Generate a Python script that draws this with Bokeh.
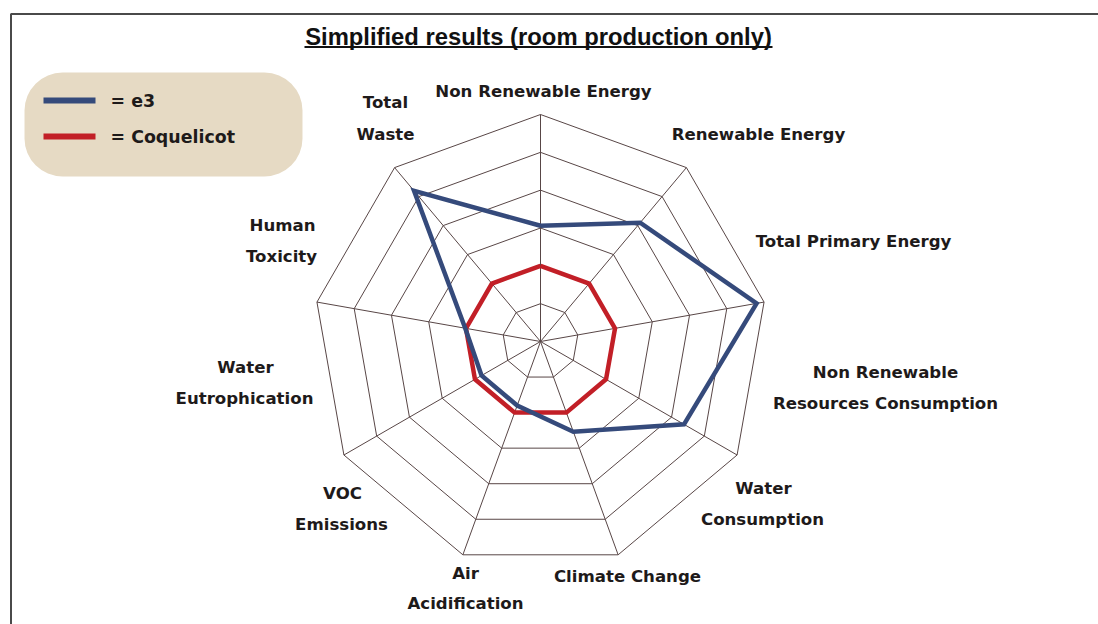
import numpy as np
from bokeh.plotting import figure
from bokeh.models import Range1d, BoxAnnotation
from bokeh.core.properties import value
from bokeh.embed import file_html
from bokeh.resources import INLINE

# ---------------- data ----------------
title_text = "Simplified results (room production only)"
series_names = ["e3", "Coquelicot"]
n_spokes = 9
ring_values = [0.5, 1.0, 1.5, 2.0, 2.5, 3.0]
max_value = 3.0
e3_values = [1.53, 2.05, 2.90, 2.19, 1.27, 0.90, 0.90, 1.01, 2.60]
coquelicot_values = [1.0, 1.0, 1.0, 1.0, 1.0, 1.0, 1.0, 1.0, 1.0]
label_texts = [
    ["Non Renewable Energy"],
    ["Renewable Energy"],
    ["Total Primary Energy"],
    ["Non Renewable", "Resources Consumption"],
    ["Water", "Consumption"],
    ["Climate Change"],
    ["Air", "Acidification"],
    ["VOC", "Emissions"],
    ["Water", "Eutrophication"],
    ["Human", "Toxicity"],
    ["Total", "Waste"],
]

# ---------------- layout (page pixel coordinates) ----------------
W, H = 1098, 624
CX, CY, R = 540.0, 341.0, 227.0
label_pos = [
    [(543, 91)],
    [(758, 134)],
    [(853, 241)],
    [(885, 372), (885, 403)],
    [(763, 488), (762, 519)],
    [(627, 576)],
    [(465, 573), (465, 603)],
    [(342, 493), (341, 524)],
    [(245, 367), (244, 398)],
    [(282, 225), (281, 256)],
    [(385, 102), (385, 134)],
]
BLUE = "#354a7b"
RED = "#c21f27"
GRID = "#584646"
TXT = "#1e1a1a"

p = figure(width=W, height=H, x_range=Range1d(0, W), y_range=Range1d(H, 0),
           output_backend="svg", toolbar_location=None, x_axis_type=None, y_axis_type=None,
           min_border=0, background_fill_color="white", border_fill_color="white")
p.outline_line_color = None
p.grid.visible = False

angles = np.deg2rad(np.arange(n_spokes) * 360.0 / n_spokes)
scale = R / max_value


def to_xy(vals):
    v = np.asarray(vals, dtype=float)
    return CX + v * scale * np.sin(angles), CY - v * scale * np.cos(angles)


# outer frame
p.add_layout(BoxAnnotation(left=10.5, top=13.5, right=1300, bottom=900, level="underlay",
                           fill_alpha=0, line_color="#4a4a4a", line_alpha=1, line_width=2))

# grid rings
for rv in ring_values:
    xs, ys = to_xy([rv] * n_spokes)
    p.line(list(xs) + [xs[0]], list(ys) + [ys[0]], line_color=GRID, line_width=1)
# spokes
ox, oy = to_xy([max_value] * n_spokes)
p.segment(x0=[CX] * n_spokes, y0=[CY] * n_spokes, x1=ox, y1=oy, line_color=GRID, line_width=1)

# series
for vals, col in [(coquelicot_values, RED), (e3_values, BLUE)]:
    xs, ys = to_xy(vals)
    p.line(list(xs) + [xs[0]], list(ys) + [ys[0]], line_color=col, line_width=4.5,
           line_join="miter")

# category labels
for lines, poss in zip(label_texts, label_pos):
    for t, (x, y) in zip(lines, poss):
        p.text(x=[x], y=[y], text=[t], text_align="center", text_baseline="middle",
               text_font=value("DejaVu Sans"), text_font_style="bold",
               text_font_size="16.6px", text_color=TXT)

# title with underline
p.text(x=[538], y=[36], text=[title_text], text_align="center", text_baseline="middle",
       text_font=value("Liberation Sans"), text_font_style="bold", text_font_size="23.8px",
       text_color="#111111")
p.segment(x0=[304], x1=[772], y0=[46.5], y1=[46.5], line_color="#111111", line_width=2)

# legend box
p.add_layout(BoxAnnotation(left=24, right=302, top=72, bottom=176, fill_color="#e6dac4",
                           fill_alpha=1, line_color=None, border_radius=38, level="underlay"))
for name, col, y in [(series_names[0], BLUE, 100), (series_names[1], RED, 136)]:
    p.segment(x0=[43], x1=[95], y0=[y], y1=[y], line_color=col, line_width=6)
    p.text(x=[110], y=[y], text=["= " + name], text_align="left", text_baseline="middle",
           text_font=value("DejaVu Sans"), text_font_style="bold", text_font_size="17.4px",
           text_color=TXT)

open("out.html", "w").write(file_html(p, INLINE))
